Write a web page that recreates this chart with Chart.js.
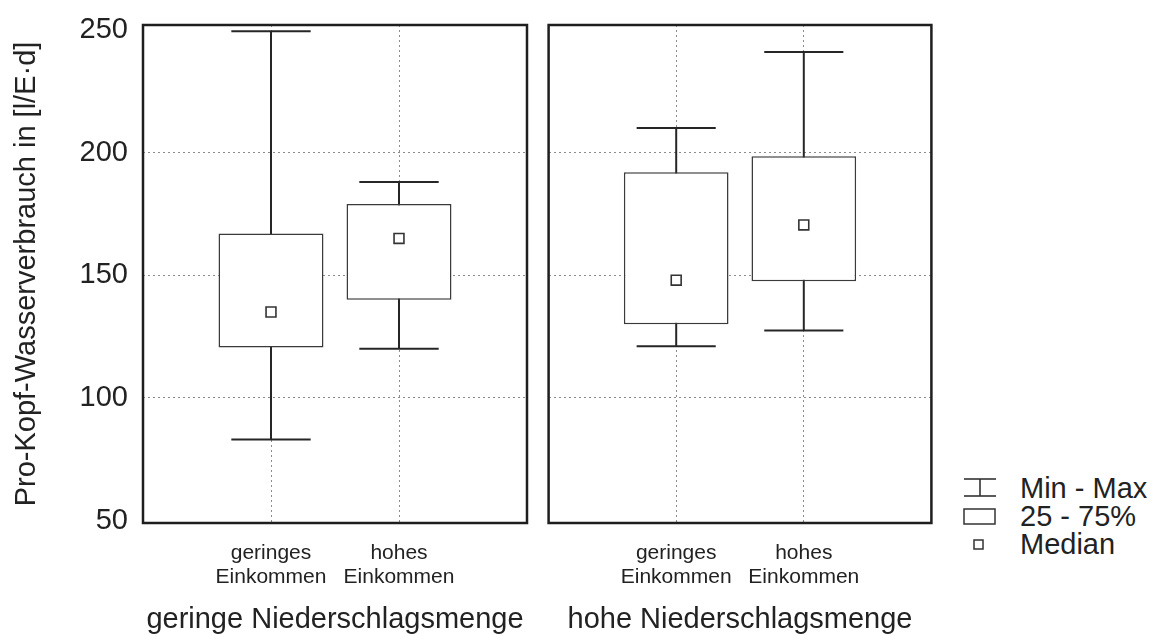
<!DOCTYPE html>
<html>
<head>
<meta charset="utf-8">
<script src="https://cdn.jsdelivr.net/npm/chart.js@4.4.1/dist/chart.umd.min.js"></script>
<style>
  body { margin: 0; background: #fff; width: 1156px; height: 634px; overflow: hidden; position: relative;
         font-family: 'Liberation Sans', Arial, sans-serif; color: #222; }
  #wrap1 { position: absolute; left: 0; top: 0; width: 540px; height: 634px; }
  #wrap2 { position: absolute; left: 540px; top: 0; width: 400px; height: 634px; }
  .lg-text { position: absolute; left: 1020px; font-size: 29px; line-height: 28px; white-space: nowrap; }
  .lg-sym { position: absolute; }
</style>
</head>
<body>
<div id="wrap1"><canvas id="panel1"></canvas></div>
<div id="wrap2"><canvas id="panel2"></canvas></div>

<svg class="lg-sym" style="left:962px;top:477px" width="36" height="22">
  <line x1="2" y1="2" x2="34" y2="2" stroke="#333" stroke-width="1.6"/>
  <line x1="2" y1="19" x2="34" y2="19" stroke="#333" stroke-width="1.6"/>
  <line x1="18" y1="2" x2="18" y2="19" stroke="#333" stroke-width="1.6"/>
</svg>
<div class="lg-text" style="top:474px">Min - Max</div>
<svg class="lg-sym" style="left:962px;top:507px" width="36" height="20">
  <rect x="2" y="2" width="31" height="15" fill="#fff" stroke="#333" stroke-width="1.5"/>
</svg>
<div class="lg-text" style="top:502px">25 - 75%</div>
<svg class="lg-sym" style="left:973px;top:539px" width="12" height="12">
  <rect x="1" y="1" width="9" height="9" fill="#fff" stroke="#333" stroke-width="1.5"/>
</svg>
<div class="lg-text" style="top:530px">Median</div>

<script>
// Gruppen (Panels) und Kategorien
const panelNames = ['geringe Niederschlagsmenge', 'hohe Niederschlagsmenge'];
const categories = [['geringes', 'Einkommen'], ['hohes', 'Einkommen']];
const yTitle = 'Pro-Kopf-Wasserverbrauch in [l/E\u00B7d]';
const yTicks = [50, 100, 150, 200, 250];

// Boxen in Reihenfolge: Panel 1 (gering, hoch), Panel 2 (gering, hoch)
const minValues    = [83, 120, 121, 127.5];
const q1Values     = [120.5, 140, 130, 147.5];
const medianValues = [135, 165, 148, 170.5];
const q3Values     = [167, 179, 192, 198.5];
const maxValues    = [249.5, 188, 210, 241];

const capHalf = 0.31;
const gridColor = '#8c8c8c';

Chart.defaults.font.family = "'Liberation Sans', Arial, sans-serif";
Chart.defaults.color = '#222';

const frame = {
  id: 'frame',
  afterDraw(chart) {
    const { ctx, chartArea: a } = chart;
    ctx.save();
    ctx.strokeStyle = '#1e1e1e';
    ctx.lineWidth = 2.5;
    ctx.strokeRect(a.left, a.top, a.right - a.left, a.bottom - a.top);
    ctx.restore();
  }
};

function noPad(s) {
  s.paddingTop = 0; s.paddingBottom = 0; s.paddingLeft = 0; s.paddingRight = 0;
}

function makePanel(canvasId, p, showY) {
  const idx = [p * 2, p * 2 + 1];
  const xs = [1, 2];

  const whiskers = idx.map((i, k) => ({
    type: 'line',
    data: [
      { x: xs[k] - capHalf, y: maxValues[i] }, { x: xs[k] + capHalf, y: maxValues[i] }, { x: xs[k], y: null },
      { x: xs[k], y: maxValues[i] }, { x: xs[k], y: minValues[i] }, { x: xs[k], y: null },
      { x: xs[k] - capHalf, y: minValues[i] }, { x: xs[k] + capHalf, y: minValues[i] }
    ],
    borderColor: '#262626',
    borderWidth: 2,
    pointRadius: 0,
    spanGaps: false,
    order: 3
  }));

  return new Chart(document.getElementById(canvasId), {
    type: 'bar',
    data: {
      datasets: [
        {
          type: 'bar',
          data: idx.map((i, k) => ({ x: xs[k], y: [q1Values[i], q3Values[i]] })),
          backgroundColor: '#fff',
          borderColor: '#3a3a3a',
          borderWidth: 1.5,
          borderSkipped: false,
          barPercentage: 0.82,
          categoryPercentage: 1,
          order: 2
        },
        ...whiskers,
        {
          type: 'scatter',
          data: idx.map((i, k) => ({ x: xs[k], y: medianValues[i] })),
          pointStyle: 'rect',
          pointRadius: 7,
          pointBorderWidth: 1.6,
          pointBorderColor: '#333',
          pointBackgroundColor: '#fff',
          order: 1
        }
      ]
    },
    options: {
      responsive: true,
      maintainAspectRatio: false,
      animation: false,
      events: [],
      layout: { padding: showY ? { top: 25, right: 13, left: 0, bottom: 0 } : { top: 25, right: 7, left: 8, bottom: 0 } },
      plugins: { legend: { display: false }, tooltip: { enabled: false } },
      scales: {
        x: {
          type: 'linear',
          min: 0,
          max: 3,
          offset: false,
          afterBuildTicks: s => { s.ticks = categories.map((c, k) => ({ value: k + 1 })); },
          afterFit: s => { s.height = 111; noPad(s); },
          grid: { color: gridColor, drawTicks: false, offset: false },
          border: { display: false, dash: [2, 3] },
          ticks: {
            callback: (v, i) => categories[i],
            padding: 18,
            font: { size: 21, lineHeight: 1.15 },
            maxRotation: 0,
            autoSkip: false
          },
          title: { display: true, text: panelNames[p], font: { size: 29, lineHeight: 1 }, padding: { top: 0, bottom: 0 } }
        },
        y: {
          min: 49,
          max: 252,
          beginAtZero: false,
          afterBuildTicks: s => { s.ticks = yTicks.map(v => ({ value: v })); },
          afterFit: s => { s.width = showY ? 143 : 0; noPad(s); },
          grid: {
            color: c => (c.tick && (c.tick.value === 50 || c.tick.value === 250)) ? 'rgba(0,0,0,0)' : gridColor,
            drawTicks: false
          },
          border: { display: false, dash: [2, 3] },
          ticks: { display: showY, padding: 15, font: { size: 29 } },
          title: { display: showY, text: yTitle, font: { size: 29, lineHeight: 1 }, padding: { top: 12, bottom: 0 } }
        }
      }
    },
    plugins: [frame]
  });
}

makePanel('panel1', 0, true);
makePanel('panel2', 1, false);
</script>
</body>
</html>
